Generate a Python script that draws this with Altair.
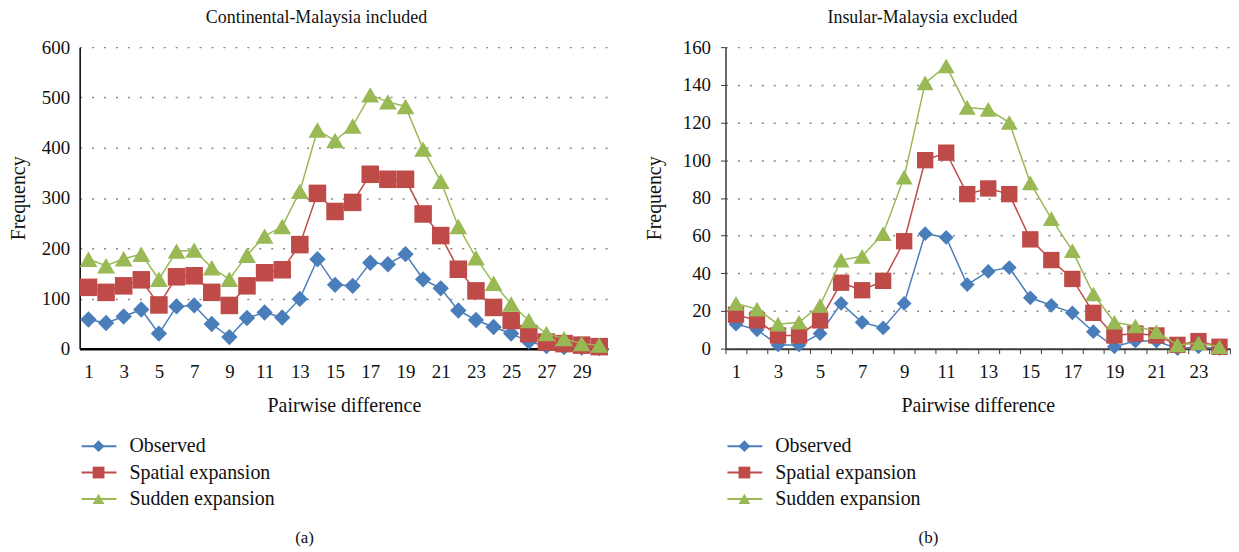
import altair as alt
import pandas as pd

FONT = "Liberation Serif"
series = ["Observed", "Spatial expansion", "Sudden expansion"]
colors = ["#4A7EBB", "#BE4B48", "#98B954"]
shapes = ["diamond", "square", "triangle-up"]

# Panel (a): Continental-Malaysia included
a_diff = list(range(1, 31))
a_observed = [58, 51, 64, 78, 30, 84, 86, 49, 23, 61, 72, 62, 99, 178, 127, 125, 171, 168, 188, 138,
              120, 76, 57, 43, 30, 14, 5, 3, 2, 1]
a_spatial = [122, 112, 125, 137, 87, 143, 145, 112, 86, 125, 151, 157, 207, 309, 273, 291, 347, 337, 337, 268,
             225, 158, 115, 82, 56, 30, 13, 10, 7, 4]
a_sudden = [178, 165, 179, 188, 138, 194, 196, 161, 138, 186, 224, 243, 313, 435, 414, 443, 505, 491, 482, 397,
            333, 243, 181, 130, 89, 56, 30, 20, 10, 7]

# Panel (b): Insular-Malaysia excluded
b_diff = list(range(1, 25))
b_observed = [13, 10, 2, 2, 8, 24, 14, 11, 24, 61, 59, 34, 41, 43, 27, 23, 19, 9, 1, 4, 4, 0, 1, 0]
b_spatial = [18, 15, 7, 7, 15, 35, 31, 36, 57, 100, 104, 82, 85, 82, 58, 47, 37, 19, 7, 8, 7, 2, 4, 1]
b_sudden = [24, 21, 13, 14, 23, 47, 49, 61, 91, 141, 150, 128, 127, 120, 88, 69, 52, 29, 14, 12, 9, 2, 3, 1]


def long_df(diff, obs, spa, sud):
    rows = []
    for name, vals in zip(series, [obs, spa, sud]):
        for d, v in zip(diff, vals):
            rows.append({"diff": d, "value": v, "series": name})
    return pd.DataFrame(rows)


color_scale = alt.Scale(domain=series, range=colors)
shape_scale = alt.Scale(domain=series, range=shapes)


def panel(df, title, caption, ymax, ystep, w, h, with_ticks, msize, caption_x, title_x, ytitle_pad):
    dom_color = "#000000" if not with_ticks else "#3a3a3a"
    xenc = alt.X(
        "diff:O",
        scale=alt.Scale(type="band", paddingInner=0, paddingOuter=0),
        axis=alt.Axis(
            title="Pairwise difference",
            labelExpr="datum.value % 2 == 1 ? datum.label : ''",
            labelAngle=0,
            labelOverlap=False,
            ticks=with_ticks,
            tickBand="extent",
            tickSize=5,
            tickColor=dom_color,
            domainColor=dom_color,
            domainWidth=2.5 if not with_ticks else 2,
            labelPadding=14 if not with_ticks else 9,
            titlePadding=14,
            labelFont=FONT, labelFontSize=19, labelColor="#111",
            titleFont=FONT, titleFontSize=20, titleFontWeight="normal", titleColor="#111",
        ),
    )
    yenc = alt.Y(
        "value:Q",
        scale=alt.Scale(domain=[0, ymax], nice=False),
        axis=alt.Axis(
            title="Frequency",
            values=list(range(0, ymax + 1, ystep)),
            grid=True, gridDash=[2, 10], gridColor="#888", gridWidth=1.5,
            ticks=with_ticks, tickSize=5, tickColor=dom_color,
            domainColor=dom_color, domainWidth=1.5,
            labelPadding=10,
            titlePadding=ytitle_pad,
            labelFont=FONT, labelFontSize=19, labelColor="#111",
            titleFont=FONT, titleFontSize=20, titleFontWeight="normal", titleColor="#111",
        ),
    )
    layers = []
    for i, s in enumerate(series):
        sub = df[df["series"] == s]
        base = alt.Chart(sub)
        layers.append(base.mark_line(strokeWidth=1.5).encode(
            x=xenc, y=yenc,
            color=alt.Color("series:N", scale=color_scale, legend=None)))
        layers.append(base.mark_point(filled=True, opacity=1, size=msize[i]).encode(
            x=xenc, y=yenc,
            color=alt.Color("series:N", scale=color_scale, legend=None),
            shape=alt.Shape("series:N", scale=shape_scale, legend=None)))
    main = alt.layer(*layers)

    leg_df = pd.DataFrame({"series": series})
    ly = alt.Y("series:N", scale=alt.Scale(type="point", domain=series, range=[h + 98, h + 151], padding=0), axis=None)
    leg_base = alt.Chart(leg_df)
    leg_rule = leg_base.mark_rule(strokeWidth=2).encode(
        x=alt.value(2), x2=alt.value(37), y=ly,
        color=alt.Color("series:N", scale=color_scale, legend=None))
    leg_pt = leg_base.mark_point(filled=True, opacity=1, size=140).encode(
        x=alt.value(19), y=ly,
        color=alt.Color("series:N", scale=color_scale, legend=None),
        shape=alt.Shape("series:N", scale=shape_scale, legend=None))
    leg_txt = leg_base.mark_text(align="left", baseline="middle", font=FONT, fontSize=20, color="#111").encode(
        x=alt.value(50), y=ly, text="series:N")
    legend = alt.layer(leg_rule, leg_pt, leg_txt)

    ttl = alt.Chart(pd.DataFrame({"t": [title]})).mark_text(
        font=FONT, fontSize=18, color="#111", baseline="middle", align="center").encode(
        text="t:N", x=alt.value(title_x), y=alt.value(-29))
    cap = alt.Chart(pd.DataFrame({"t": [caption]})).mark_text(
        font=FONT, fontSize=17, color="#111", baseline="middle", align="center").encode(
        text="t:N", x=alt.value(caption_x), y=alt.value(h + 190))

    return alt.layer(main, legend, ttl, cap).resolve_scale(y="independent").properties(width=w, height=h)


left = panel(long_df(a_diff, a_observed, a_spatial, a_sudden), "Continental-Malaysia included", "(a)",
             600, 100, 531, 303, False, [270, 310, 320], 226, 238, 13)
right = panel(long_df(b_diff, b_observed, b_spatial, b_sudden), "Insular-Malaysia excluded", "(b)",
              160, 20, 507, 303, True, [220, 270, 290], 204, 198, 18)

chart = alt.hconcat(left, right, spacing=35).properties(padding=0).configure_view(stroke=None)
chart.save("out.html", embed_options={"renderer": "svg", "actions": False})
